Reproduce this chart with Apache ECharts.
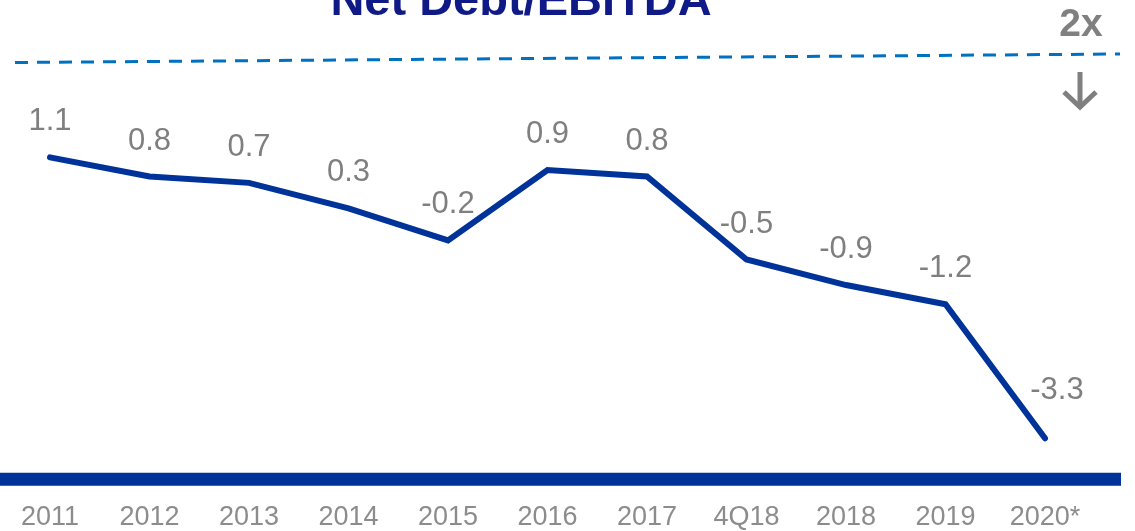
<!DOCTYPE html>
<html>
<head>
<meta charset="utf-8">
<script src="https://cdn.jsdelivr.net/npm/echarts@6/dist/echarts.min.js"></script>
<style>
html,body{margin:0;padding:0;background:#fff;}
#chart{width:1135px;height:531px;}
</style>
</head>
<body>
<div id="chart"></div>
<script>
const titleText = 'Net Debt/EBITDA';
const categories = ['2011','2012','2013','2014','2015','2016','2017','4Q18','2018','2019','2020*'];
const netDebtEbitda = [1.1, 0.8, 0.7, 0.3, -0.2, 0.9, 0.8, -0.5, -0.9, -1.2, -3.3];
const thresholdLabel = '2x';

const chart = echarts.init(document.getElementById('chart'), null, {renderer:'canvas'});
const FONT = '"Liberation Sans", Arial, sans-serif';

const seriesData = netDebtEbitda.map((v, i) => {
  const d = {value: v};
  if (i === netDebtEbitda.length - 1) {
    d.label = {position: [13, -47], align: 'center', verticalAlign: 'middle'};
  }
  return d;
});

chart.setOption({
  animation: false,
  backgroundColor: '#ffffff',
  grid: {left: 0.25, right: 40.25, top: 36, bottom: 48, containLabel: false, outerBoundsMode: 'none'},
  xAxis: {
    type: 'category',
    data: categories,
    boundaryGap: true,
    axisLine: {show: false},
    axisTick: {show: false},
    splitLine: {show: false},
    axisLabel: {color: '#8c8c8c', fontSize: 27, fontFamily: FONT, margin: 21, lineHeight: 27, interval: 0}
  },
  yAxis: {
    type: 'value',
    min: -4,
    max: 3,
    show: false,
    splitLine: {show: false}
  },
  series: [{
    type: 'line',
    data: seriesData,
    symbol: 'circle',
    symbolSize: 2,
    showSymbol: true,
    itemStyle: {color: 'rgba(0,0,0,0)'},
    lineStyle: {color: '#003399', width: 6, cap: 'round', join: 'miter'},
    label: {
      show: true,
      position: 'top',
      distance: 19,
      color: '#7f7f7f',
      fontSize: 31,
      lineHeight: 31,
      fontFamily: FONT,
      formatter: p => Number(p.value).toFixed(1)
    },
    labelLayout: {hideOverlap: false}
  }],
  graphic: [
    {type: 'text', silent: true, style: {text: titleText, x: 521, y: 2.5, textAlign: 'center', textVerticalAlign: 'middle', fill: '#0f1a87', font: 'bold 47px ' + FONT}},
    {type: 'line', silent: true, shape: {x1: 15, y1: 62.5, x2: 1120, y2: 54}, style: {stroke: '#0070c0', lineWidth: 3, lineDash: [13, 9]}},
    {type: 'text', silent: true, style: {text: thresholdLabel, x: 1081, y: 25, textAlign: 'center', textVerticalAlign: 'middle', fill: '#808080', font: 'bold 39px ' + FONT}},
    {type: 'polyline', silent: true, shape: {points: [[1080, 72], [1080, 107]]}, style: {stroke: '#7f7f7f', lineWidth: 5, fill: null}},
    {type: 'polyline', silent: true, shape: {points: [[1064, 92], [1080, 107], [1096, 92]]}, style: {stroke: '#7f7f7f', lineWidth: 5, fill: null, lineJoin: 'miter'}},
    {type: 'rect', silent: true, shape: {x: 0, y: 472.7, width: 1121, height: 13}, style: {fill: '#003399'}}
  ]
});
</script>
</body>
</html>
